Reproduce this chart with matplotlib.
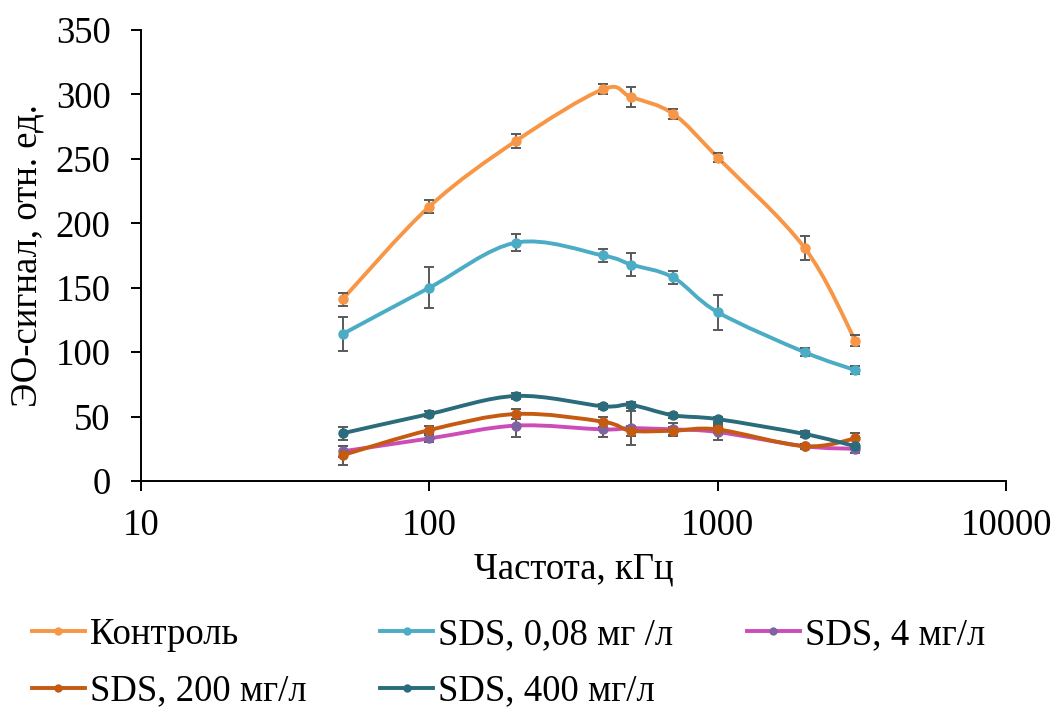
import numpy as np
import matplotlib
matplotlib.use("Agg")
import matplotlib.pyplot as plt
from matplotlib.path import Path
from matplotlib.patches import PathPatch
from matplotlib.lines import Line2D

plt.rcParams['font.family'] = ['Liberation Serif', 'DejaVu Serif']

freq = [50, 100, 200, 400, 500, 700, 1000, 2000, 3000]

control = [141, 213, 264, 304, 298, 285, 251, 181, 109]
control_err = [5, 5, 5.5, 4, 8, 4, 3.7, 9.5, 4.4]

sds_008 = [114, 150, 185, 175, 168, 158, 131, 100, 86]
sds_008_err = [13.4, 16, 6.6, 5.4, 9, 4.8, 13.7, 3, 3]

sds_4 = [23, 33, 43, 40, 41, 40, 38, 27, 25]
sds_4_err = [4, 3, 8.5, 6, 13, 5, 6, 2, 3]

sds_200 = [20, 39.5, 52, 46, 39, 39, 40, 27, 33]
sds_200_err = [7.5, 3, 4, 4, 4, 3, 3, 2, 4]

sds_400 = [37, 52, 66, 58, 59, 51, 48, 36.5, 27]
sds_400_err = [5, 2, 2, 2, 2, 2, 2, 2, 2]

series = [
    ("Контроль", control, control_err, '#F79646', '#F79646'),
    ("SDS, 0,08 мг /л", sds_008, sds_008_err, '#4BACC6', '#4BACC6'),
    ("SDS, 4 мг/л", sds_4, sds_4_err, '#CC4CB8', '#8064A2'),
    ("SDS, 200 мг/л", sds_200, sds_200_err, '#C55A11', '#C55A11'),
    ("SDS, 400 мг/л", sds_400, sds_400_err, '#2A6B7C', '#2A6B7C'),
]


def smooth_path(x, y):
    # Excel-like smoothed line: cubic Bezier segments (Catmull-Rom) in log-x space
    lx = np.log10(x)
    y = np.asarray(y, float)
    n = len(lx)
    verts = [(x[0], y[0])]
    codes = [Path.MOVETO]
    for i in range(n - 1):
        i0 = max(i - 1, 0)
        i3 = min(i + 2, n - 1)
        c1x = lx[i] + (lx[i + 1] - lx[i0]) / 6
        c1y = y[i] + (y[i + 1] - y[i0]) / 6
        c2x = lx[i + 1] - (lx[i3] - lx[i]) / 6
        c2y = y[i + 1] - (y[i3] - y[i]) / 6
        verts += [(10 ** c1x, c1y), (10 ** c2x, c2y), (x[i + 1], y[i + 1])]
        codes += [Path.CURVE4] * 3
    return Path(verts, codes)


FS = 26.5

fig = plt.figure(figsize=(10.57, 7.09), dpi=100)
ax = fig.add_axes([0.1334, 0.3216, 0.8184, 0.6361])
ax.set_xscale('log')

handles = []
for name, vals, err, lc, mc in series:
    ax.add_patch(PathPatch(smooth_path(freq, vals), facecolor='none',
                           edgecolor=lc, lw=2.8, zorder=2))
    ax.errorbar(freq, vals, yerr=err, fmt='none', ecolor='#595959',
                elinewidth=1.4, capsize=3.3, capthick=1.4, zorder=3)
    ax.plot(freq, vals, 'o', color=mc, ms=6.5, zorder=4)
    handles.append(Line2D([], [], color=lc, lw=2.8, marker='o', ms=5,
                          markerfacecolor=mc, markeredgecolor=mc))

ax.set_xlim(10, 10000)
ax.set_ylim(0, 350)
ax.set_yticks(np.arange(0, 351, 50))
ax.set_xticks([10, 100, 1000, 10000])
ax.set_xticklabels(['10', '100', '1000', '10000'])
ax.xaxis.set_minor_locator(matplotlib.ticker.NullLocator())
for s in ['top', 'right']:
    ax.spines[s].set_visible(False)
for s in ['left', 'bottom']:
    ax.spines[s].set_linewidth(1.4)
ax.tick_params(axis='both', labelsize=FS, width=1.4, length=7)
ax.tick_params(axis='y', pad=15)
ax.tick_params(axis='x', pad=13)
ax.set_xlabel("Частота, кГц", fontsize=FS, labelpad=6)
ax.set_ylabel("ЭО-сигнал, отн. ед.", fontsize=FS, labelpad=8)

# row-major legend order for 3 columns x 2 rows
order = [0, 3, 1, 4, 2]
fig.legend(handles=[handles[i] for i in order],
           labels=[series[i][0] for i in order], loc='upper left',
           bbox_to_anchor=(0.03, 0.129), ncol=3, frameon=False, fontsize=FS,
           handlelength=1.44, handletextpad=0.14, columnspacing=2.0,
           labelspacing=0.6, borderpad=0, borderaxespad=0)

fig.savefig("out.png", dpi=100)
